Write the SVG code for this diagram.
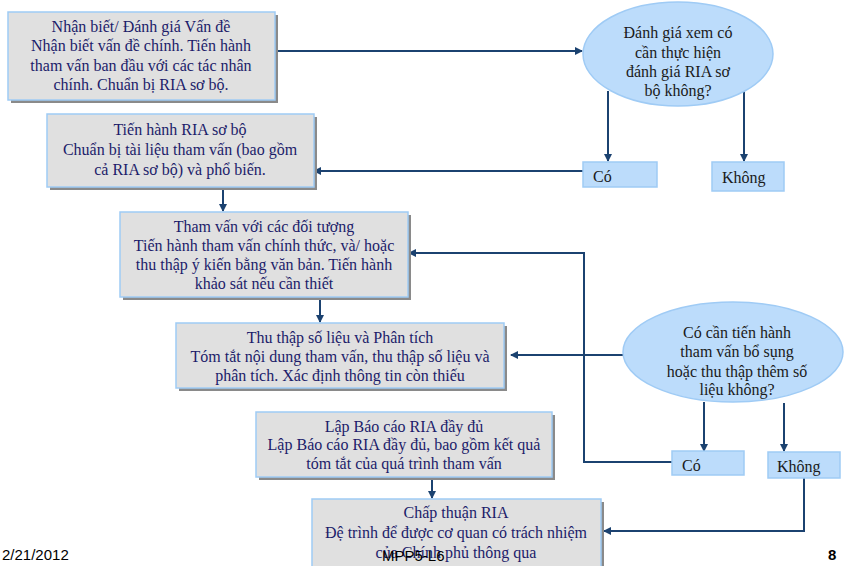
<svg xmlns="http://www.w3.org/2000/svg" width="844" height="566" viewBox="0 0 844 566">
<defs>
<marker id="ah" markerWidth="8" markerHeight="8" refX="7" refY="4" orient="auto" markerUnits="userSpaceOnUse">
<path d="M0,0 L8,4 L0,8 Z" fill="#1b4270"/>
</marker>
<style>
.shadow{fill:#8a8a8a}
.box{fill:#e0e0e0;stroke:#9fcbf5;stroke-width:1.5}
.ell{fill:#bcdcfb;stroke:#9fcbf5;stroke-width:1.5}
.opt{fill:#bcdcfb;stroke:#9fcbf5;stroke-width:1.5}
.bt{font-family:"Liberation Serif","Times New Roman",serif;font-size:16px;fill:#1c1c6a;text-anchor:middle}
.et{font-family:"Liberation Serif","Times New Roman",serif;font-size:16px;fill:#1a1a1a;text-anchor:middle}
.ot{font-family:"Liberation Serif","Times New Roman",serif;font-size:16px;fill:#1a1a1a}
.con{fill:none;stroke:#1b4270;stroke-width:2}
.ft{font-family:"Liberation Sans",Arial,sans-serif;font-size:15px;fill:#000}
</style>
</defs>
<rect width="844" height="566" fill="#fff"/>

<g id="connectors">
<path class="con" d="M275,51 H582" marker-end="url(#ah)"/>
<path class="con" d="M608,91 V161" marker-end="url(#ah)"/>
<path class="con" d="M744,91 V161" marker-end="url(#ah)"/>
<path class="con" d="M583,171 H314" marker-end="url(#ah)"/>
<path class="con" d="M223,187 V211" marker-end="url(#ah)"/>
<path class="con" d="M320,297 V322" marker-end="url(#ah)"/>
<path class="con" d="M672,462 H584 V253 H409" marker-end="url(#ah)"/>
<path class="con" d="M623,355 H511" marker-end="url(#ah)"/>
<path class="con" d="M704,402 V451" marker-end="url(#ah)"/>
<path class="con" d="M784,403 V451" marker-end="url(#ah)"/>
<path class="con" d="M432,477 V498" marker-end="url(#ah)"/>
<path class="con" d="M804,478 V531 H604" marker-end="url(#ah)"/>
</g>

<g id="n1">
<rect class="shadow" x="11" y="15" width="267" height="88"/>
<rect class="box" x="8" y="12" width="267" height="88"/>
<text class="bt" x="141" y="32">Nhận biết/ Đánh giá Vấn đề</text>
<text class="bt" x="141" y="51">Nhận biết vấn đề chính. Tiến hành</text>
<text class="bt" x="141" y="71">tham vấn ban đầu với  các tác nhân</text>
<text class="bt" x="141" y="90">chính. Chuẩn bị RIA sơ bộ.</text>
</g>

<g id="q1">
<ellipse class="ell" cx="678" cy="54" rx="95" ry="52"/>
<text class="et" x="678" y="38">Đánh giá xem có</text>
<text class="et" x="678" y="58">cần thực hiện</text>
<text class="et" x="678" y="77">đánh giá RIA sơ</text>
<text class="et" x="678" y="96">bộ không?</text>
</g>

<g id="co1">
<rect class="opt" x="583" y="162" width="74" height="25"/>
<text class="ot" x="593" y="182">Có</text>
</g>
<g id="khong1">
<rect class="opt" x="712" y="162" width="72" height="29"/>
<text class="ot" x="722" y="183">Không</text>
</g>

<g id="n2">
<rect class="shadow" x="50" y="117" width="267" height="73"/>
<rect class="box" x="47" y="114" width="267" height="73"/>
<text class="bt" x="180" y="135">Tiến hành RIA sơ bộ</text>
<text class="bt" x="180" y="155">Chuẩn bị tài liệu tham vấn (bao gồm</text>
<text class="bt" x="180" y="175">cả RIA sơ bộ) và phổ biến.</text>
</g>

<g id="n3">
<rect class="shadow" x="123" y="215" width="288" height="85"/>
<rect class="box" x="120" y="212" width="288" height="85"/>
<text class="bt" x="264" y="232">Tham vấn với các đối tượng</text>
<text class="bt" x="264" y="251">Tiến hành tham vấn chính thức, và/ hoặc</text>
<text class="bt" x="264" y="270">thu thập ý kiến bằng văn bản. Tiến hành</text>
<text class="bt" x="264" y="289">khảo sát nếu cần thiết</text>
</g>

<g id="n4">
<rect class="shadow" x="179" y="326" width="328" height="65"/>
<rect class="box" x="176" y="323" width="328" height="65"/>
<text class="bt" x="340" y="343">Thu thập số liệu và Phân tích</text>
<text class="bt" x="340" y="362">Tóm tắt nội dung tham vấn, thu thập số liệu và</text>
<text class="bt" x="340" y="381">phân tích. Xác định thông tin còn thiếu</text>
</g>

<g id="q2">
<ellipse class="ell" cx="733" cy="352" rx="110" ry="50"/>
<text class="et" x="737" y="338">Có cần tiến hành</text>
<text class="et" x="737" y="357">tham vấn bổ sụng</text>
<text class="et" x="737" y="377">hoặc thu thập thêm số</text>
<text class="et" x="737" y="395">liệu không?</text>
</g>

<g id="co2">
<rect class="opt" x="672" y="451" width="72" height="24"/>
<text class="ot" x="682" y="471">Có</text>
</g>
<g id="khong2">
<rect class="opt" x="768" y="452" width="72" height="26"/>
<text class="ot" x="777" y="472">Không</text>
</g>

<g id="n5">
<rect class="shadow" x="259" y="415" width="296" height="65"/>
<rect class="box" x="256" y="412" width="296" height="65"/>
<text class="bt" x="404" y="432">Lập Báo cáo RIA đầy đủ</text>
<text class="bt" x="404" y="450">Lập Báo cáo RIA đầy đủ, bao gồm kết quả</text>
<text class="bt" x="404" y="469">tóm tắt của quá trình tham vấn</text>
</g>

<g id="n6">
<rect class="shadow" x="315" y="502" width="289" height="66"/>
<rect class="box" x="312" y="499" width="289" height="70"/>
<text class="bt" x="456" y="518">Chấp thuận RIA</text>
<text class="bt" x="456" y="538">Đệ trình để được cơ quan có trách nhiệm</text>
<text class="bt" x="456" y="558">của Chính phủ thông qua</text>
</g>

<g id="footer">
<text class="ft" x="2" y="560">2/21/2012</text>
<text class="ft" x="382" y="561">MPP5-L6</text>
<text class="ft" x="828" y="560" font-weight="bold" font-size="16">8</text>
</g>
</svg>
